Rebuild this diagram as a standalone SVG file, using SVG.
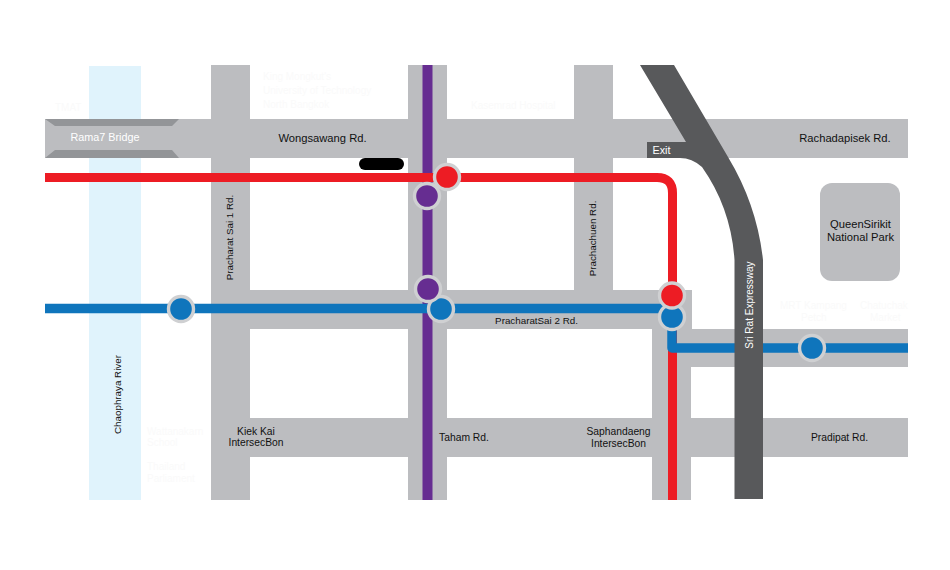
<svg xmlns="http://www.w3.org/2000/svg" width="950" height="570" viewBox="0 0 950 570">
<style>
text{font-family:"Liberation Sans",Arial,sans-serif;font-size:10.3px;fill:#111;text-anchor:middle}
.road{fill:#bcbdc0}
.w{fill:#fff}
.f{fill:#fafafa;font-size:10px;text-anchor:start}
.v{font-size:9.800px}
.h{font-size:11.200px}
.line{fill:none;stroke-linejoin:round}
.st{stroke:#cfd0d2;stroke-width:3.4}
.red{fill:#ed1c24}.blue{fill:#0f75bc}.purple{fill:#662d91}
</style>
<rect width="950" height="570" fill="#fff"/>
<g id="river"><rect x="89" y="66" width="52" height="434" fill="#e0f3fc"/>
<text class="v" transform="translate(120.500 394.500) rotate(-90)">Chaophraya River</text></g>
<g id="roads">
<rect class="road" x="211" y="65" width="39" height="435"/>
<rect class="road" x="408" y="65" width="39" height="435"/>
<rect class="road" x="574" y="65" width="39" height="225"/>
<rect class="road" x="45" y="119" width="863" height="39"/>
<rect class="road" x="211" y="290" width="481" height="39"/>
<rect class="road" x="652" y="290" width="39" height="210"/>
<rect class="road" x="691" y="329" width="217" height="38"/>
<rect class="road" x="211" y="418" width="697" height="39"/>
</g>
<g id="bridge">
<path d="M45 119H179L172 126H55Z M55 150H172L179 158H45Z" fill="#939598"/>
<text class="w" x="105" y="140.500" style="font-size:10.800px">Rama7 Bridge</text>
</g>
<g id="connectors">
<path class="line" d="M427.500 65V500" stroke="#662d91" stroke-width="10"/>
<path class="line" d="M45 177.500H657Q672.500 177.500 672.500 193V500" stroke="#ed1c24" stroke-width="9"/>
<path class="line" d="M45 308.500H672M672 317V348H908" stroke="#0f75bc" stroke-width="9.500"/>
</g>
<g id="expressway">
<path d="M640 65H674L728 157Q757 205 763 260V499H734.500V260Q731 208 702 167Q692 158 680 158H647V142H686Z" fill="#58595b"/>
<text class="w" x="661.500" y="154" style="font-size:10.800px">Exit</text>
<text class="w" transform="translate(753 305) rotate(-90)" style="font-size:10px">Sri Rat Expressway</text>
</g>
<rect id="marker-black" x="359" y="158" width="45" height="12" rx="6" fill="#000"/>
<g id="park"><rect class="road" x="820" y="183" width="80" height="98" rx="12"/>
<text class="h" x="860.500" y="228">QueenSirikit</text><text class="h" x="860.500" y="241">National Park</text></g>
<g id="road-labels">
<text class="h" x="322.500" y="141.500">Wongsawang Rd.</text>
<text class="h" x="845" y="141.500">Rachadapisek Rd.</text>
<text class="v" transform="translate(233 237.500) rotate(-90)">Pracharat Sai 1 Rd.</text>
<text class="v" transform="translate(596 238.500) rotate(-90)">Prachachuen Rd.</text>
<text x="536.500" y="324" style="font-size:9.800px">PracharatSai 2 Rd.</text>
<text x="256" y="435">Kiek Kai</text><text x="256" y="446">IntersecBon</text>
<text x="464" y="441">Taham Rd.</text>
<text x="618.500" y="435">Saphandaeng</text><text x="618.500" y="447">IntersecBon</text>
<text x="839.500" y="440.500">Pradipat Rd.</text>
</g>
<g id="faint-labels">
<text class="f" x="263" y="80">King Mongkut's</text>
<text class="f" x="263" y="94">University of Technology</text>
<text class="f" x="263" y="108">North Bangkok</text>
<text class="f" x="471" y="109">Kasemrad Hospital</text>
<text class="f" x="55" y="111">TMAT</text>
<text class="f" x="780" y="309">MRT Kampang</text>
<text class="f" x="860" y="309">Chatuchak</text>
<text class="f" x="801" y="321">Petch</text>
<text class="f" x="870" y="321">Market</text>
<text class="f" x="147" y="435">Wattanakarn</text>
<text class="f" x="147" y="446">School</text>
<text class="f" x="147" y="470">Thailand</text>
<text class="f" x="147" y="482">Parliament</text>
</g>
<g id="station-red-1"><circle class="red st" cx="447" cy="177" r="12.500"/></g>
<g id="station-purple-1"><circle class="purple st" cx="427" cy="196" r="12.500"/></g>
<g id="station-blue-2"><circle class="blue st" cx="441" cy="309" r="12.500"/></g>
<g id="station-purple-2"><circle class="purple st" cx="428" cy="289" r="12.500"/></g>
<g id="station-blue-3"><circle class="blue st" cx="672" cy="317" r="12.500"/></g>
<g id="station-red-2"><circle class="red st" cx="672" cy="295.500" r="12.500"/></g>
<g id="station-blue-1"><circle class="blue st" cx="181" cy="309" r="12.500"/></g>
<g id="station-blue-4"><circle class="blue st" cx="812" cy="348" r="12.500"/></g>
</svg>
